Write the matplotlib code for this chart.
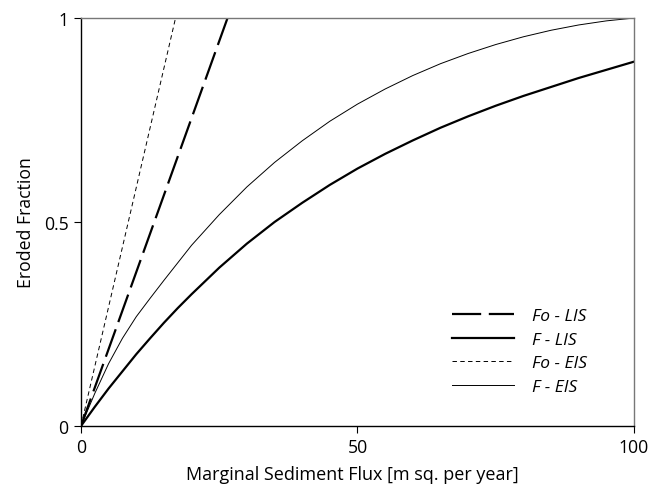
import numpy as np
import matplotlib.pyplot as plt

plt.rcParams['font.family'] = ['Open Sans', 'DejaVu Sans']
plt.rcParams['lines.scale_dashes'] = False

# values
FLUX = [0, 2.5, 5, 7.5, 10, 12.5, 15, 17.5, 20, 25, 30, 35, 40, 45, 50,
        55, 60, 65, 70, 75, 80, 85, 90, 95, 100]
F_LIS = [0, 0.047, 0.092, 0.134, 0.176, 0.215, 0.253, 0.289, 0.323, 0.388, 0.447, 0.500,
         0.547, 0.591, 0.631, 0.667, 0.700, 0.731, 0.759, 0.785, 0.809, 0.831, 0.853,
         0.873, 0.893]
F_EIS = [0, 0.08, 0.153, 0.215, 0.268, 0.313, 0.357, 0.400, 0.443, 0.518, 0.586, 0.646,
         0.699, 0.747, 0.789, 0.826, 0.859, 0.888, 0.913, 0.935, 0.954, 0.970, 0.983,
         0.993, 1.0]

FO_LIS_X = [0, 26.5]
FO_LIS_Y = [0, 1]
FO_EIS_X = [0, 17.1]
FO_EIS_Y = [0, 1]


def main():
    fig = plt.figure(figsize=(6.6, 4.89), dpi=100)
    ax = fig.add_axes([0.1227, 0.1268, 0.8379, 0.8343])

    ax.plot(FO_LIS_X, FO_LIS_Y, color='black', lw=1.6, dashes=(21, 5.5), label='Fo - LIS')
    ax.plot(FLUX, F_LIS, color='black', lw=1.6, label='F - LIS')
    ax.plot(FO_EIS_X, FO_EIS_Y, color='black', lw=0.7, dashes=(3.2, 2.4), label='Fo - EIS')
    ax.plot(FLUX, F_EIS, color='black', lw=0.7, label='F - EIS')

    ax.set_xlim(0, 100)
    ax.set_ylim(0, 1)
    ax.set_xticks([0, 50, 100])
    ax.set_yticks([0, 0.5, 1])
    ax.set_yticklabels(['0', '0.5', '1'])
    ax.tick_params(direction='out', length=5, width=0.8, labelsize=12.7, pad=4,
                   top=False, right=False)

    for side in ['top', 'right']:
        ax.spines[side].set_color('#777777')
        ax.spines[side].set_linewidth(1.0)
    for side in ['left', 'bottom']:
        ax.spines[side].set_color('black')
        ax.spines[side].set_linewidth(1.0)

    ax.set_xlabel('Marginal Sediment Flux [m sq. per year]', fontsize=13)
    ax.xaxis.set_label_coords(0.49, -0.095)
    ax.set_ylabel('Eroded Fraction', fontsize=12.7, labelpad=6)

    ax.legend(loc='upper left', bbox_to_anchor=(0.655, 0.31), frameon=False,
              prop={'style': 'italic', 'size': 12.5}, handlelength=3.6,
              handletextpad=1.0, labelspacing=0.42, borderpad=0)

    fig.savefig('out.png', dpi=100)


if __name__ == "__main__":
    main()
